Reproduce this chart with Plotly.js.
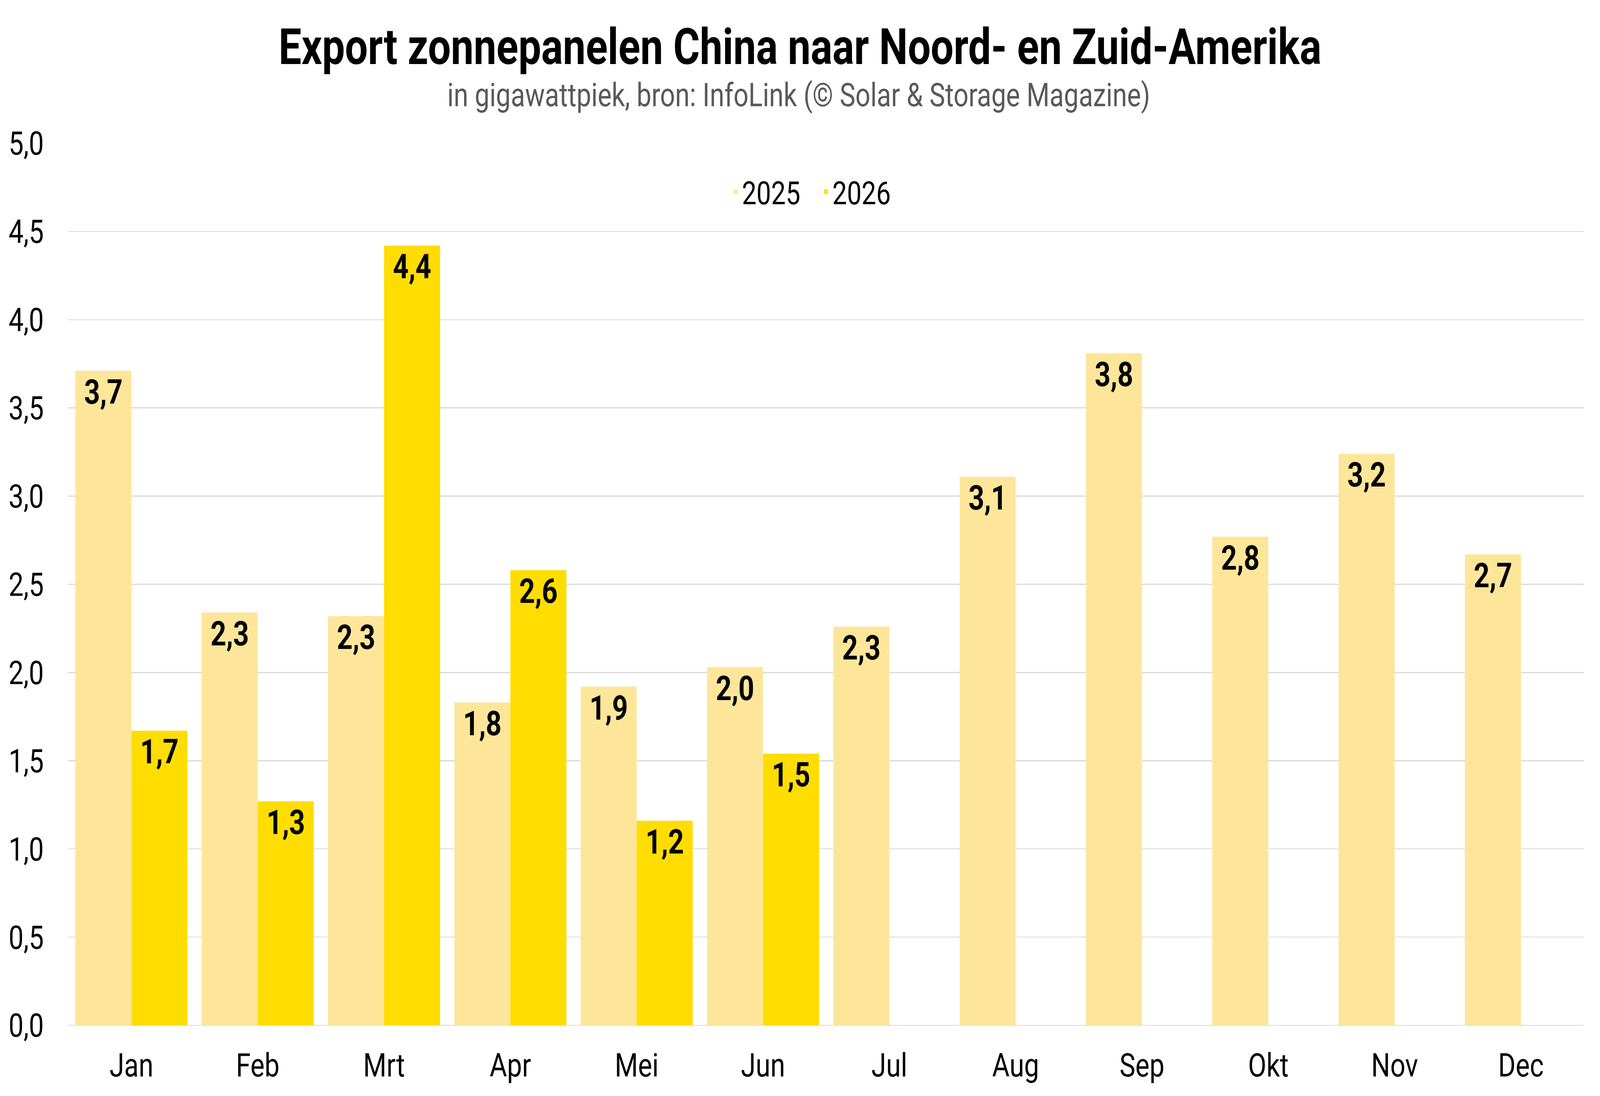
<!DOCTYPE html>
<html>
<head>
<meta charset="utf-8">
<script src="https://cdn.plot.ly/plotly-3.0.1.min.js"></script>
<style>
html, body { margin: 0; padding: 0; background: #fff; overflow: hidden; }
#chart { width: 5041px; height: 2807px; transform-origin: 0 0; }
</style>
</head>
<body>
<div id="chart"></div>
<script>
var months = ['Jan', 'Feb', 'Mrt', 'Apr', 'Mei', 'Jun', 'Jul', 'Aug', 'Sep', 'Okt', 'Nov', 'Dec'];
var months2026 = ['Jan', 'Feb', 'Mrt', 'Apr', 'Mei', 'Jun'];
var exports2025 = [3.71, 2.34, 2.32, 1.83, 1.92, 2.03, 2.26, 3.11, 3.81, 2.77, 3.24, 2.67];
var exports2026 = [1.67, 1.27, 4.42, 2.58, 1.16, 1.54];

// the chart is laid out at the reference size and fitted to whatever window we get
var W = 5041, H = 2807;
document.getElementById('chart').style.transform =
    'scale(' + (window.innerWidth / W) + ',' + (window.innerHeight / H) + ')';

var labelFont = { family: 'Roboto', size: 87, color: '#000', weight: 'bold' };

function barTrace(x, y, name, color) {
    return {
        type: 'bar',
        x: x,
        y: y,
        name: name,
        marker: { color: color, line: { width: 0 } },
        texttemplate: '%{y:.1f}',
        textposition: 'inside',
        insidetextanchor: 'end',
        textangle: 0,
        constraintext: 'none',
        insidetextfont: labelFont,
        hoverinfo: 'skip'
    };
}

var data = [
    barTrace(months, exports2025, '2025', '#fde699'),
    barTrace(months2026, exports2026, '2026', '#ffdd00')
];

var layout = {
    width: W,
    height: H,
    margin: { l: 215, r: 50, t: 367, b: 181, pad: 0 },
    separators: ', ',
    barmode: 'group',
    bargap: 0.113,
    bargroupgap: 0,
    paper_bgcolor: '#fff',
    plot_bgcolor: '#fff',
    font: { family: 'Roboto', size: 84, color: '#000' },
    title: {
        text: 'Export zonnepanelen China naar Noord- en Zuid-Amerika',
        font: { family: 'Roboto', size: 128, color: '#000', weight: 'bold' },
        x: 0.5,
        xanchor: 'center',
        xref: 'container',
        y: 0.9735,
        yanchor: 'top',
        yref: 'container'
    },
    annotations: [{
        text: 'in gigawattpiek, bron: InfoLink (© Solar & Storage Magazine)',
        font: { family: 'Roboto', size: 83, color: '#595959' },
        xref: 'paper',
        yref: 'paper',
        x: 0.4818,
        y: 1.0545,
        xanchor: 'center',
        yanchor: 'middle',
        showarrow: false
    }],
    xaxis: {
        type: 'category',
        categoryorder: 'array',
        categoryarray: months,
        showgrid: false,
        showline: false,
        zeroline: false,
        ticks: '',
        tickfont: { family: 'Roboto', size: 84, color: '#000' },
        ticklabelstandoff: 46
    },
    yaxis: {
        range: [0, 5],
        tick0: 0,
        dtick: 0.5,
        tickformat: '.1f',
        showgrid: true,
        gridcolor: '#d9d9d9',
        gridwidth: 2.5,
        zeroline: true,
        zerolinecolor: '#d9d9d9',
        zerolinewidth: 2.5,
        showline: false,
        ticks: '',
        tickfont: { family: 'Roboto', size: 84, color: '#000' },
        ticklabelstandoff: 76
    },
    legend: {
        orientation: 'h',
        x: 0.436,
        xanchor: 'left',
        y: 0.945,
        yanchor: 'middle',
        entrywidth: 240,
        bgcolor: 'rgba(0,0,0,0)',
        font: { family: 'Roboto', size: 82, color: '#000' }
    }
};

Plotly.newPlot('chart', data, layout, { staticPlot: true, displayModeBar: false });
</script>
</body>
</html>
